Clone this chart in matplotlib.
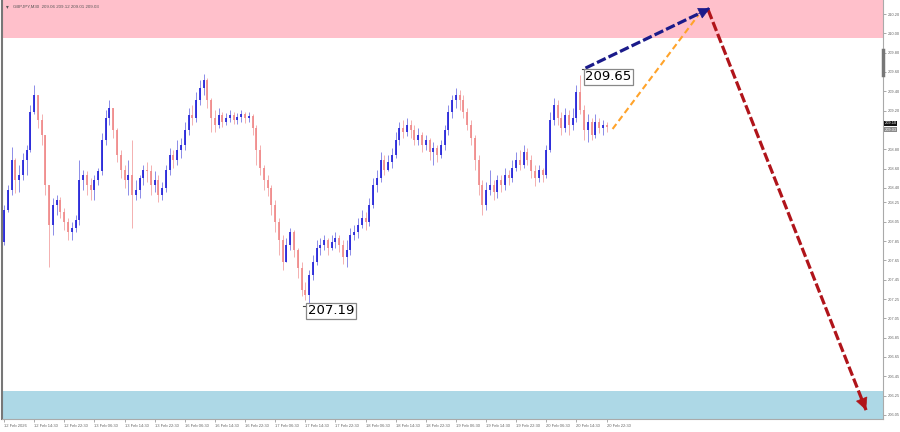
import matplotlib
matplotlib.use('Agg')
import matplotlib.pyplot as plt

# ---------------- data ----------------
first_open = 207.84
closes = [208.17, 208.38, 208.69, 208.48, 208.53, 208.69, 208.79, 209.19,
          209.36, 209.10, 208.95, 208.43, 208.02, 208.22, 208.28, 208.15,
          208.05, 207.94, 207.99, 208.07, 208.48, 208.53, 208.43, 208.38,
          208.48, 208.57, 208.90, 209.12, 209.23, 209.00, 208.74, 208.59,
          208.48, 208.53, 208.33, 208.38, 208.50, 208.59, 208.57, 208.43,
          208.48, 208.33, 208.40, 208.59, 208.74, 208.69, 208.79, 208.84,
          209.00, 209.15, 209.12, 209.31, 209.43, 209.52, 209.31, 209.12,
          209.05, 209.15, 209.08, 209.12, 209.15, 209.10, 209.13, 209.17,
          209.12, 209.14, 209.02, 208.79, 208.61, 208.48, 208.40, 208.22,
          208.05, 207.86, 207.63, 207.81, 207.94, 207.76, 207.57, 207.34,
          207.29, 207.50, 207.63, 207.78, 207.81, 207.86, 207.78, 207.84,
          207.88, 207.81, 207.68, 207.76, 207.91, 207.94, 208.02, 208.09,
          208.05, 208.22, 208.43, 208.50, 208.69, 208.59, 208.67, 208.74,
          208.90, 209.02, 208.98, 209.05, 209.00, 208.90, 208.95, 208.84,
          208.90, 208.77, 208.81, 208.74, 208.84, 209.00, 209.19, 209.31,
          209.36, 209.31, 209.19, 209.05, 208.92, 208.69, 208.43, 208.22,
          208.38, 208.43, 208.36, 208.48, 208.43, 208.53, 208.50, 208.61,
          208.69, 208.64, 208.77, 208.69, 208.57, 208.50, 208.59, 208.53,
          208.79, 209.10, 209.26, 209.12, 209.02, 209.15, 209.05, 209.12,
          209.39, 209.21, 209.00, 209.08, 208.95, 209.08, 209.02, 209.05,
          209.03]
highs = [208.22, 208.43, 208.82, 208.71, 208.64, 208.76, 208.84, 209.26,
         209.47, 209.31, 209.16, 208.95, 208.38, 208.30, 208.33, 208.31,
         208.19, 208.09, 208.05, 208.12, 208.69, 208.59, 208.57, 208.50,
         208.53, 208.61, 208.97, 209.21, 209.31, 209.23, 209.02, 208.79,
         208.64, 208.69, 208.90, 208.48, 208.53, 208.64, 208.67, 208.64,
         208.57, 208.53, 208.46, 208.64, 208.81, 208.79, 208.90, 208.92,
         209.08, 209.23, 209.26, 209.39, 209.52, 209.58, 209.54, 209.33,
         209.21, 209.23, 209.19, 209.18, 209.21, 209.19, 209.18, 209.21,
         209.19, 209.19, 209.17, 209.05, 208.84, 208.64, 208.53, 208.43,
         208.28, 208.09, 207.91, 207.88, 207.99, 207.96, 207.78, 207.63,
         207.43, 207.55, 207.71, 207.86, 207.88, 207.91, 207.88, 207.91,
         207.94, 207.91, 207.86, 207.86, 207.99, 208.02, 208.09, 208.17,
         208.15, 208.30, 208.50, 208.59, 208.77, 208.74, 208.74, 208.81,
         208.98, 209.08, 209.10, 209.12, 209.10, 209.05, 209.02, 208.98,
         208.95, 208.92, 208.88, 208.84, 208.90, 209.05, 209.26, 209.36,
         209.43, 209.41, 209.36, 209.23, 209.10, 208.95, 208.74, 208.48,
         208.46, 208.59, 208.48, 208.53, 208.53, 208.61, 208.59, 208.69,
         208.77, 208.79, 208.84, 208.81, 208.74, 208.64, 208.64, 208.61,
         208.84, 209.19, 209.33, 209.31, 209.19, 209.23, 209.21, 209.23,
         209.47, 209.57, 209.26, 209.16, 209.12, 209.16, 209.12, 209.10,
         209.08]
lows = [207.81, 208.15, 208.33, 208.35, 208.36, 208.48, 208.53, 208.77,
        209.16, 209.02, 208.84, 208.33, 207.58, 207.91, 208.12, 208.09,
        207.96, 207.86, 207.86, 207.94, 208.02, 208.38, 208.33, 208.28,
        208.28, 208.43, 208.53, 208.84, 209.05, 208.92, 208.67, 208.50,
        208.40, 208.33, 207.99, 208.28, 208.30, 208.43, 208.46, 208.33,
        208.36, 208.25, 208.28, 208.36, 208.53, 208.61, 208.64, 208.71,
        208.79, 208.95, 209.05, 209.08, 209.26, 209.36, 209.23, 208.98,
        208.98, 209.02, 209.03, 209.05, 209.08, 209.06, 209.06, 209.08,
        209.07, 209.08, 208.95, 208.64, 208.53, 208.38, 208.32, 208.12,
        207.94, 207.71, 207.55, 207.63, 207.76, 207.68, 207.47, 207.28,
        207.24, 207.19, 207.45, 207.60, 207.71, 207.76, 207.71, 207.76,
        207.78, 207.74, 207.61, 207.58, 207.71, 207.86, 207.88, 207.99,
        207.96, 208.01, 208.19, 208.36, 208.46, 208.53, 208.57, 208.61,
        208.71, 208.84, 208.92, 208.94, 208.92, 208.84, 208.84, 208.77,
        208.79, 208.69, 208.64, 208.67, 208.71, 208.79, 208.95, 209.12,
        209.23, 209.21, 209.12, 209.00, 208.84, 208.59, 208.33, 208.12,
        208.17, 208.33, 208.28, 208.30, 208.36, 208.38, 208.43, 208.46,
        208.57, 208.59, 208.61, 208.64, 208.50, 208.42, 208.46, 208.46,
        208.50, 208.77, 209.05, 209.05, 208.95, 208.98, 208.95, 209.00,
        209.08, 209.16, 208.90, 208.88, 208.90, 208.92, 208.97, 208.95,
        208.98]

x_tick_labels = ["12 Feb 2026", "12 Feb 14:30", "12 Feb 22:30", "13 Feb 06:30",
                 "13 Feb 14:30", "13 Feb 22:30", "16 Feb 06:30", "16 Feb 14:30",
                 "16 Feb 22:30", "17 Feb 06:30", "17 Feb 14:30", "17 Feb 22:30",
                 "18 Feb 06:30", "18 Feb 14:30", "18 Feb 22:30", "19 Feb 06:30",
                 "19 Feb 14:30", "19 Feb 22:30", "20 Feb 06:30", "20 Feb 14:30",
                 "20 Feb 22:30"]
bars_per_label = 8

y_tick_labels = ["210.20", "210.00", "209.80", "209.60", "209.40", "209.20",
                 "208.80", "208.60", "208.40", "208.25", "208.05",
                 "207.85", "207.65", "207.45", "207.25", "207.05", "206.85",
                 "206.65", "206.45", "206.25", "206.05"]

header = "GBPJPY,M30  209.06 209.12 209.01 209.03"
bid_label, ask_label = "209.10", "209.03"
bid_price, ask_price = 209.07, 209.00

resist_zone = (209.95, 210.40)
support_zone = (205.90, 206.30)

high_label, high_bar, high_price = "209.65", 153, 209.57
low_label, low_bar, low_price = "207.19", 81, 207.19

# forecast paths (bar index, price)
blue_path = [(154.4, 209.64), (187.5, 210.26)]
orange_path = [(161.6, 209.01), (184.4, 210.19)]
red_path = [(187.0, 210.24), (228.9, 206.10)]

# ---------------- figure ----------------
fig = plt.figure(figsize=(9, 4.32), dpi=100)
ax = fig.add_axes([2/900, 13/432, 881/900, 419/432])
ax.set_xlim(-0.53, 233.4)
ax.set_ylim(206.008, 210.345)

ax.axhspan(*resist_zone, color='#ffc0cb', zorder=0, lw=0)
ax.axhspan(*support_zone, color='#add8e6', zorder=0, lw=0)

opens = [first_open] + closes[:-1]
for i, (o, h, l, c) in enumerate(zip(opens, highs, lows, closes)):
    h = max(h, o, c)
    l = min(l, o, c)
    up = c >= o
    wick = '#8c8ce8' if up else '#f4b0b0'
    body = '#2020d8' if up else '#f08a8a'
    ax.vlines(i, l, h, color=wick, lw=0.7, zorder=2)
    lo_b, hi_b = min(o, c), max(o, c)
    if hi_b - lo_b < 0.01:
        hi_b = lo_b + 0.01
    ax.vlines(i, lo_b, hi_b, color=body, lw=1.25, zorder=3)

# forecast arrows
def dashed_arrow(path, color, lw, dash, head=True, hs=14, f=0.06):
    (x0, y0), (x1, y1) = path
    ax.plot([x0, x1], [y0, y1], color=color, lw=lw, ls=(0, dash),
            solid_capstyle='butt', dash_capstyle='butt', zorder=6)
    if head:
        ax.annotate('', xy=(x1, y1), xytext=(x1 - f*(x1-x0), y1 - f*(y1-y0)),
                    arrowprops=dict(arrowstyle='-|>', color=color, lw=0.5,
                                    mutation_scale=hs, shrinkA=0, shrinkB=0),
                    zorder=7, annotation_clip=False)

dashed_arrow(orange_path, '#ffa32a', 1.5, (3.0, 1.8), head=False)
dashed_arrow(blue_path, '#1b1b8a', 2.3, (3.0, 1.0), head=True, hs=19, f=0.1)
dashed_arrow(red_path, '#b0141a', 2.3, (3.0, 1.0), head=True, hs=20, f=0.04)

# high / low annotations
ax.plot([high_bar + 0.5, high_bar + 1.4], [high_price + 0.06, high_price + 0.06],
        color='#444444', lw=0.8, zorder=8)
ax.text(high_bar + 1.4, high_price - 0.02, high_label, fontsize=9.5,
        family='DejaVu Sans', va='center', ha='left', zorder=9,
        bbox=dict(boxstyle='square,pad=0.12', fc='white', ec='#888888', lw=0.9))
ax.plot([low_bar - 1.6, low_bar - 0.4], [low_price - 0.01, low_price - 0.01],
        color='#444444', lw=0.8, zorder=8)
ax.text(low_bar - 0.3, low_price - 0.06, low_label, fontsize=9.5,
        family='DejaVu Sans', va='center', ha='left', zorder=9,
        bbox=dict(boxstyle='square,pad=0.12', fc='white', ec='#888888', lw=0.9))

# axes styling
ax.spines['top'].set_visible(False)
ax.spines['left'].set_color('#777777')
ax.spines['left'].set_linewidth(1.5)
ax.spines['right'].set_color('#aaaaaa')
ax.spines['bottom'].set_color('#aaaaaa')
ax.spines['right'].set_linewidth(0.8)
ax.spines['bottom'].set_linewidth(0.8)

ax.yaxis.tick_right()
ax.set_yticks([float(v) for v in y_tick_labels])
ax.set_yticklabels(y_tick_labels)
ax.tick_params(axis='y', length=2, width=0.5, colors='#888888', pad=1.5,
               labelsize=2.9, labelcolor='#666666')
ax.set_xticks([k * bars_per_label for k in range(len(x_tick_labels))])
ax.set_xticklabels(x_tick_labels, ha='left')
ax.tick_params(axis='x', length=2, width=0.5, colors='#888888', pad=1.5,
               labelsize=3.0, labelcolor='#666666')
for lbl in ax.get_xticklabels() + ax.get_yticklabels():
    lbl.set_family('Liberation Sans')

# bid / ask boxes on price axis
ax.text(1.002, bid_price, bid_label, transform=ax.get_yaxis_transform(),
        fontsize=2.9, family='Liberation Sans', color='white', va='center',
        ha='left', bbox=dict(boxstyle='square,pad=0.12', fc='#111111', ec='none'),
        clip_on=False, zorder=10)
ax.text(1.002, ask_price, ask_label, transform=ax.get_yaxis_transform(),
        fontsize=2.9, family='Liberation Sans', color='white', va='center',
        ha='left', bbox=dict(boxstyle='square,pad=0.12', fc='#8a8a8a', ec='none'),
        clip_on=False, zorder=10)
ax.plot([1.0, 1.0], [209.57, 209.83], transform=ax.get_yaxis_transform(),
        color='#777777', lw=2.5, clip_on=False, zorder=10)

# header
ax.text(0.004, 0.99, '\u25BE', transform=ax.transAxes, fontsize=4,
        color='#555555', va='top', ha='left', family='DejaVu Sans')
ax.text(0.012, 0.99, header, transform=ax.transAxes, fontsize=3.2,
        color='#555555', va='top', ha='left', family='Liberation Sans')

fig.savefig('out.png', dpi=100)
